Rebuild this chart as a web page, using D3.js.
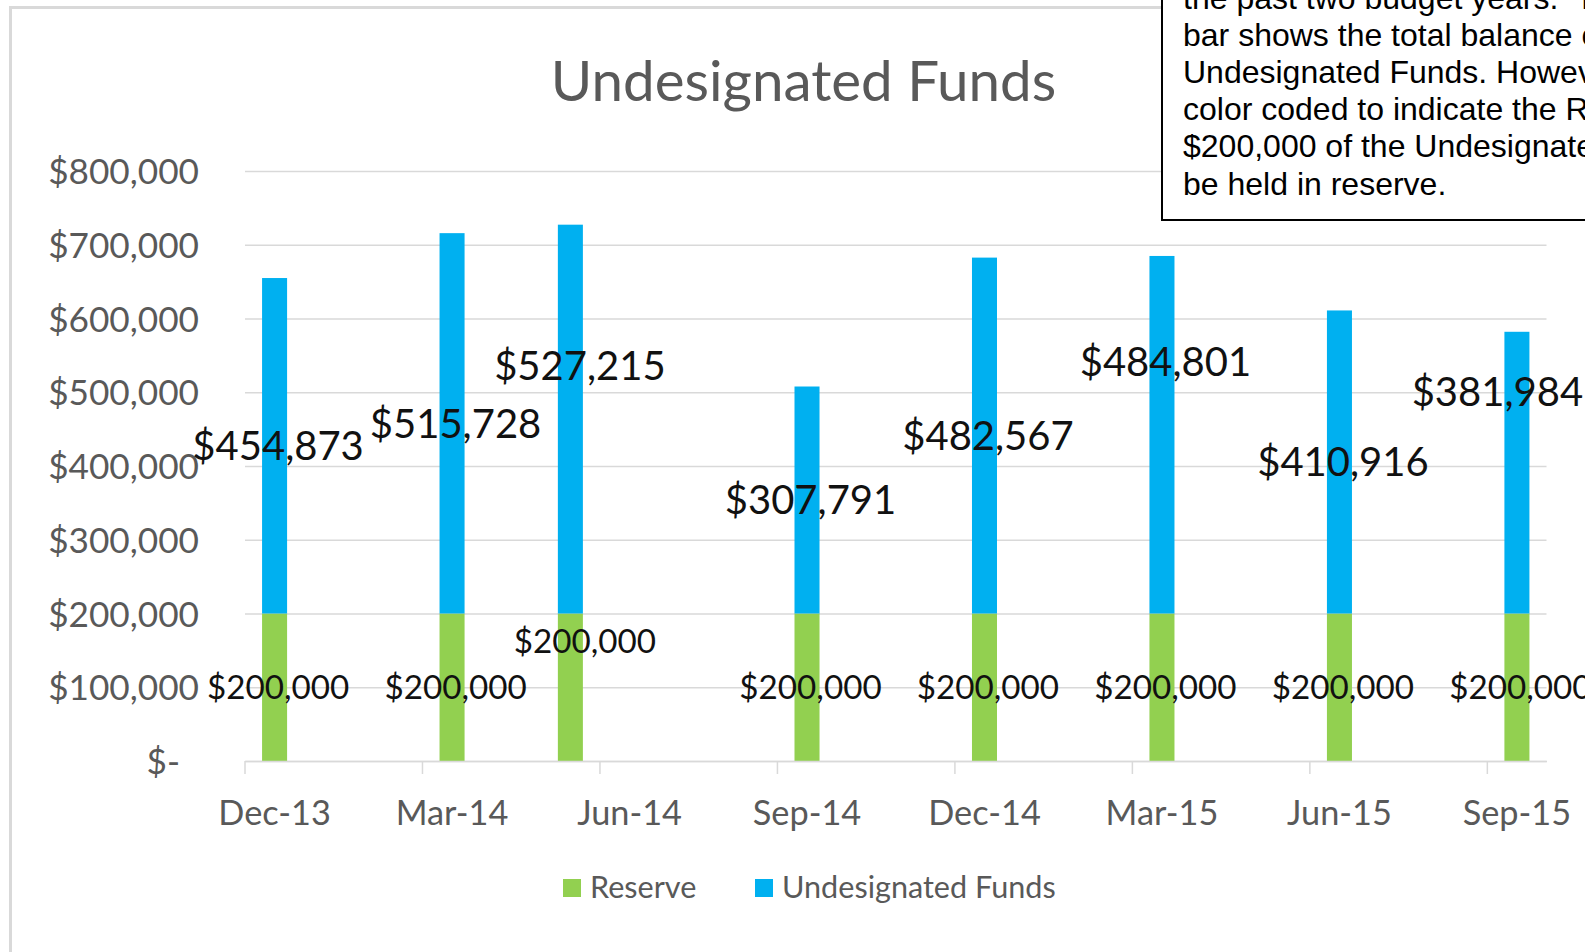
<!DOCTYPE html>
<html>
<head>
<meta charset="utf-8">
<script src="https://cdn.jsdelivr.net/npm/d3@7"></script>
<style>
  html, body { margin: 0; background: #fff; overflow: hidden; }
</style>
</head>
<body>
<div id="chart"></div>
<script>
// data
const periods = ["Dec-13", "Mar-14", "May-14", "Sep-14", "Dec-14", "Mar-15", "Jun-15", "Sep-15"];
const reserve = [200000, 200000, 200000, 200000, 200000, 200000, 200000, 200000];
const undesignated = [454873, 515728, 527215, 307791, 482567, 484801, 410916, 381984];
const seriesKeys = ["reserve", "undesignated"];
const seriesNames = ["Reserve", "Undesignated Funds"];
const tickLabels = ["Dec-13", "Mar-14", "Jun-14", "Sep-14", "Dec-14", "Mar-15", "Jun-15", "Sep-15"];
const yTicks = [0, 100000, 200000, 300000, 400000, 500000, 600000, 700000, 800000];
// labels that were dragged away from the middle of their segment (value where they sit)
const reserveLabelAt = [null, null, 163000, null, null, null, null, null];
const undesLabelAt = [null, null, 536000, null, null, 542000, null, 501000];
const noteLines = [
    "the past two budget years.\u00A0 The",
    "bar shows the total balance of",
    "Undesignated Funds. However, it is",
    "color coded to indicate the Reserve",
    "$200,000 of the Undesignated Funds to",
    "be held in reserve."
];

const width = 1585;
const height = 952;
const plot = { left: 245, right: 1546.5, top: 171, bottom: 761 };
const font = "Lato, 'Open Sans', sans-serif";

const svg = d3.select("#chart")
    .append("svg")
    .attr("width", width)
    .attr("height", height)
    .style("display", "block");

// chart area frame
svg.append("rect")
    .attr("x", 10.5)
    .attr("y", 7.5)
    .attr("width", 2000)
    .attr("height", 2000)
    .attr("fill", "#fff")
    .attr("stroke", "#d9d9d9")
    .attr("stroke-width", 3);

const parseMonth = d3.timeParse("%b-%y");
const fmtMonth = d3.timeFormat("%b-%y");
const slots = d3.timeMonth.range(
    parseMonth(periods[0]),
    d3.timeMonth.offset(parseMonth(tickLabels[tickLabels.length - 1]), 1)
).map(fmtMonth);

const x = d3.scaleBand()
    .domain(slots)
    .range([plot.left, plot.right]);

const y = d3.scaleLinear()
    .domain([0, 800000])
    .range([plot.bottom, plot.top]);

const color = d3.scaleOrdinal()
    .domain(seriesKeys)
    .range(["#92D050", "#00B0F0"]);

const barW = x.bandwidth() * 0.423;

// y axis + gridlines
svg.append("g")
    .attr("transform", `translate(${plot.left},0)`)
    .call(d3.axisLeft(y)
        .tickValues(yTicks)
        .tickSize(-(plot.right - plot.left))
        .tickPadding(46)
        .tickFormat(d => d === 0 ? "$-" : d3.format("$,")(d)))
    .call(g => g.select(".domain").remove())
    .call(g => g.selectAll(".tick line").attr("stroke", "#d9d9d9").attr("stroke-width", 1.5))
    .call(g => g.selectAll(".tick text")
        .attr("fill", "#595959")
        .attr("dy", "0.36em")
        .style("font-family", font)
        .style("font-size", "35.2px"))
    .call(g => g.selectAll(".tick text").filter(d => d === 0).attr("dx", -19));

// bars
const table = periods.map((p, i) => ({ period: p, reserve: reserve[i], undesignated: undesignated[i] }));
const stacked = d3.stack().keys(seriesKeys)(table);

svg.append("g")
    .selectAll("g")
    .data(stacked)
    .join("g")
    .attr("fill", d => color(d.key))
    .selectAll("rect")
    .data(d => d)
    .join("rect")
    .attr("x", d => x(d.data.period) + (x.bandwidth() - barW) / 2)
    .attr("y", d => y(d[1]))
    .attr("width", barW)
    .attr("height", d => y(d[0]) - y(d[1]));

// x axis: ticks sit on month boundaries, labels in the middle of the month
svg.append("g")
    .attr("transform", `translate(0,${plot.bottom})`)
    .call(d3.axisBottom(x).tickValues(tickLabels).tickSize(13).tickSizeOuter(0))
    .call(g => g.select(".domain").attr("stroke", "#d9d9d9").attr("stroke-width", 1.5))
    .call(g => g.selectAll(".tick line")
        .attr("x1", -x.bandwidth() / 2)
        .attr("x2", -x.bandwidth() / 2)
        .attr("stroke", "#d9d9d9")
        .attr("stroke-width", 1.5))
    .call(g => g.selectAll(".tick text")
        .attr("y", 64)
        .attr("dy", 0)
        .attr("fill", "#595959")
        .style("font-family", font)
        .style("font-size", "34.3px"));

// data labels
const labelShift = { reserve: { 2: 11 }, undesignated: { 2: 6, 7: -23 } };
const labelSize = { reserve: 33.2, undesignated: 40 };
const labelAt = { reserve: reserveLabelAt, undesignated: undesLabelAt };

stacked.forEach(layer => {
    svg.append("g")
        .selectAll("text")
        .data(layer)
        .join("text")
        .attr("x", (d, i) => x(d.data.period) + x.bandwidth() / 2 + 3.5 + (labelShift[layer.key][i] || 0))
        .attr("y", (d, i) => y(labelAt[layer.key][i] ?? (d[0] + d[1]) / 2))
        .attr("dy", "0.36em")
        .attr("text-anchor", "middle")
        .attr("fill", "#111")
        .style("font-family", font)
        .style("font-size", labelSize[layer.key] + "px")
        .text(d => d3.format("$,")(d.data[layer.key]));
});

// title
svg.append("text")
    .attr("x", 803.5)
    .attr("y", 101)
    .attr("text-anchor", "middle")
    .attr("fill", "#595959")
    .style("font-family", font)
    .style("font-size", "56.5px")
    .text("Undesignated Funds");

// legend
const legend = svg.append("g")
    .attr("transform", "translate(563,879)");

const legendItem = legend.selectAll("g")
    .data(seriesKeys)
    .join("g")
    .attr("transform", (d, i) => `translate(${i * 192},0)`);

legendItem.append("rect")
    .attr("width", 18)
    .attr("height", 18)
    .attr("fill", d => color(d));

legendItem.append("text")
    .attr("x", 27)
    .attr("y", 19)
    .attr("fill", "#595959")
    .style("font-family", font)
    .style("font-size", "30.6px")
    .text((d, i) => seriesNames[i]);

// note box overlapping the top right corner
const note = svg.append("g");
note.append("rect")
    .attr("x", 1162)
    .attr("y", -60)
    .attr("width", 600)
    .attr("height", 280)
    .attr("fill", "#fff")
    .attr("stroke", "#000")
    .attr("stroke-width", 2);

note.append("text")
    .attr("fill", "#000")
    .style("font-family", "'Liberation Sans', Arial, sans-serif")
    .style("font-size", "32px")
    .selectAll("tspan")
    .data(noteLines)
    .join("tspan")
    .attr("x", 1183)
    .attr("y", (d, i) => 9 + i * 37.1)
    .text(d => d);
</script>
</body>
</html>
